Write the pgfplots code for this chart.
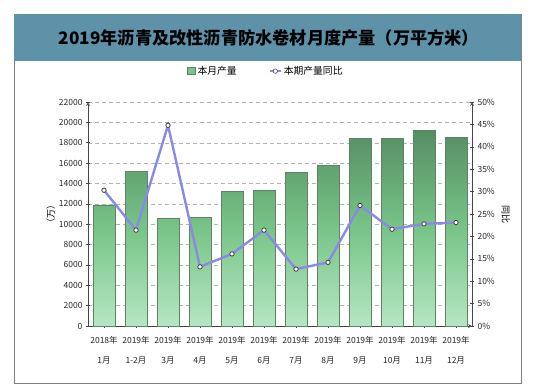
\documentclass[border=0pt]{standalone}
\usepackage{pgfplots}
\pgfplotsset{compat=1.18}
\usepackage{fontspec}
\setmainfont{Noto Sans CJK SC}
\definecolor{titleblue}{RGB}{94,146,168}
\definecolor{framegray}{RGB}{128,128,128}
\definecolor{barTop}{RGB}{86,142,100}
\definecolor{barMid}{RGB}{120,196,136}
\definecolor{barBot}{RGB}{182,230,194}
\definecolor{barEdge}{RGB}{96,130,104}
\definecolor{lineCol}{RGB}{138,138,230}
\definecolor{axGray}{RGB}{70,70,70}
\pgfplotstableread{
x prod yoy
0 11900 30.3
1 15150 21.4
2 10600 44.8
3 10700 13.2
4 13200 16.1
5 13300 21.4
6 15100 12.7
7 15800 14.2
8 18400 26.9
9 18400 21.6
10 19200 22.8
11 18500 23.1
}\datatable
\begin{document}
\begin{tikzpicture}[x=1pt,y=1pt]
\path[use as bounding box] (0,0) rectangle (551,389);
\fill[white] (0,0) rectangle (551,389);
\draw[framegray, line width=0.8pt] (14,6) rectangle (521,375);
\fill[titleblue] (14.4,328) rectangle (520.6,374.6);
\node[font=\bfseries\fontsize{17.2}{19}\selectfont, text=black] at (269,351) {2019年沥青及改性沥青防水卷材月度产量（万平方米）};
\pgfplotsset{
  common/.style={
    scale only axis, width=384pt, height=224pt,
    at={(88pt,63pt)}, anchor=south west,
    xmin=-0.5, xmax=11.5,
    tick label style={font=\fontsize{8.5}{10}\selectfont, text=black!85},
    /pgf/number format/assume math mode=true,
    axis line style={axGray, line width=0.8pt, -},
    tick style={axGray, line width=0.6pt},
    tick align=outside,
    major tick length=4pt,
  }
}
\begin{axis}[common,
  axis x line=bottom, axis y line=left,
  ymin=0, ymax=22000, ytick={0,2000,...,22000},
  /pgf/number format/1000 sep={},
  scaled y ticks=false,
  ymajorgrids, grid style={dashed, black!30, dash pattern=on 4pt off 3pt},
  xtick={0,...,11},
  xticklabels={{2018年\\[10pt]1月},{2019年\\[10pt]1-2月},{2019年\\[10pt]3月},{2019年\\[10pt]4月},{2019年\\[10pt]5月},{2019年\\[10pt]6月},{2019年\\[10pt]7月},{2019年\\[10pt]8月},{2019年\\[10pt]9月},{2019年\\[10pt]10月},{2019年\\[10pt]11月},{2019年\\[10pt]12月}},
  xticklabel style={align=center, yshift=-4.5pt},
  x tick label style={font=\fontsize{8.5}{10}\selectfont},
  ylabel={（万）}, ylabel style={font=\fontsize{9}{10}\selectfont, yshift=-3pt},
]
\addplot[ybar, bar width=22pt, draw=barEdge, line width=0.6pt, top color=barTop, bottom color=barBot, middle color=barMid] table[x=x, y=prod] {\datatable};
\end{axis}
\begin{axis}[common,
  axis x line=none, axis y line=right,
  ymin=0, ymax=50, ytick={0,5,...,50},
  yticklabel={\pgfmathprintnumber{\tick}\%},
  ylabel={同比}, ylabel style={font=\fontsize{9}{10}\selectfont, rotate=180},
  legend columns=2,
  legend style={at={(0.463,1.138)}, anchor=center, draw=none, fill=none,
    font=\fontsize{9.8}{11}\selectfont,
    /tikz/every even column/.append style={column sep=30pt}},
]
\addlegendimage{legend image code/.code={\draw[draw=barEdge, fill=barMid, line width=0.6pt] (0pt,-3.5pt) rectangle (8pt,4pt);}}
\addlegendentry{本月产量}
\addplot[lineCol, line width=2.4pt, mark=*, mark options={fill=white, draw=black!75, line width=0.8pt, scale=1.1},
  legend image code/.code={\draw[lineCol, line width=2pt] (0pt,0pt) -- (11pt,0pt); \draw[fill=white, draw=black!70, line width=0.6pt] (5.5pt,0pt) circle (2.2pt);}] table[x=x, y=yoy] {\datatable};
\addlegendentry{本期产量同比}
\end{axis}
\end{tikzpicture}
\end{document}
